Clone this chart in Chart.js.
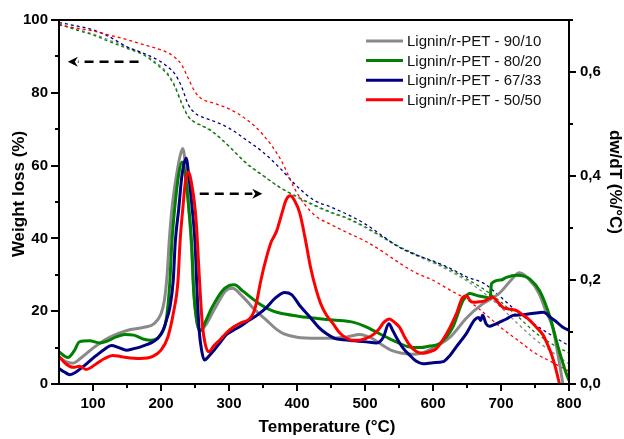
<!DOCTYPE html>
<html>
<head>
<meta charset="utf-8">
<script src="https://cdn.jsdelivr.net/npm/chart.js@4.4.1/dist/chart.umd.min.js"></script>
<style>
    html, body { margin: 0; padding: 0; background: #fff; }
    canvas { display: block; }
</style>
</head>
<body>
<canvas id="chart" width="624" height="439"></canvas>
<script>
// TG / DTG - Lignin/r-PET Mischungen

// ==================== Daten ====================

const seriesLabels = ['Lignin/r-PET - 90/10', 'Lignin/r-PET - 80/20', 'Lignin/r-PET - 67/33', 'Lignin/r-PET - 50/50'];

// DTG (dw/dT, %/°C) - durchgezogene Linien, rechte Achse
const dtgTemp9010 = [50, 60, 70, 85, 100, 125, 150, 175, 190, 200, 205, 209, 212, 216, 223, 228, 232, 236, 241, 245, 248, 252, 256, 259, 265, 280, 295, 305, 320, 340, 355, 370, 380, 400, 430, 455, 475, 492, 510, 522, 540, 555, 570, 585, 600, 625, 650, 673, 698, 715, 727, 740, 756, 766, 776, 786, 791];
const dtgVal9010 = [.052, .043, .040, .053, .069, .090, .103, .109, .116, .135, .161, .210, .273, .336, .403, .438, .453, .420, .336, .259, .182, .126, .105, .103, .112, .147, .179, .184, .168, .140, .123, .105, .097, .090, .088, .088, .091, .095, .088, .078, .064, .059, .057, .060, .069, .090, .128, .154, .175, .200, .214, .203, .174, .140, .109, .040, 0];

const dtgTemp8020 = [50, 63, 72, 80, 95, 110, 120, 135, 147, 160, 175, 185, 195, 203, 208, 213, 216, 220, 226, 231, 236, 241, 245, 248, 252, 256, 259, 265, 275, 290, 300, 308, 320, 345, 365, 380, 404, 430, 453, 482, 500, 512, 541, 566, 580, 595, 610, 629, 644, 654, 665, 678, 684, 686, 700, 708, 723, 735, 742, 757, 772, 784, 796, 800];
const dtgVal8020 = [.062, .051, .063, .081, .083, .079, .082, .091, .095, .094, .086, .084, .088, .103, .126, .196, .273, .336, .403, .427, .399, .336, .273, .179, .126, .105, .103, .119, .147, .179, .189, .191, .179, .154, .140, .135, .130, .126, .123, .119, .111, .103, .084, .071, .070, .073, .078, .109, .160, .174, .170, .167, .165, .193, .200, .205, .209, .207, .202, .179, .129, .071, .020, .007];

const dtgTemp6733 = [50, 58, 66, 75, 85, 95, 105, 117, 127, 138, 149, 160, 169, 180, 188, 196, 203, 208, 213, 218, 221, 226, 231, 237, 241, 246, 250, 253, 256, 260, 264, 270, 278, 286, 296, 306, 318, 330, 342, 355, 368, 382, 392, 404, 419, 432, 443, 455, 468, 485, 502, 517, 527, 535, 540, 546, 556, 566, 575, 585, 600, 615, 625, 634, 649, 661, 667, 670, 673, 678, 683, 690, 698, 708, 718, 730, 742, 755, 762, 767, 772, 782, 791, 800];
const dtgVal6733 = [.030, .023, .018, .023, .033, .044, .055, .067, .074, .070, .065, .068, .071, .076, .081, .089, .103, .123, .147, .199, .273, .336, .403, .434, .399, .336, .273, .179, .105, .063, .046, .053, .065, .078, .095, .103, .112, .123, .133, .147, .165, .176, .172, .151, .129, .109, .097, .088, .085, .083, .081, .079, .090, .116, .105, .090, .069, .055, .044, .039, .041, .043, .055, .071, .097, .123, .128, .122, .132, .116, .111, .114, .119, .125, .132, .133, .135, .137, .138, .135, .129, .119, .109, .103];

const dtgTemp5050 = [50, 60, 71, 80, 90, 105, 117, 129, 140, 149, 169, 188, 200, 210, 218, 225, 228, 232, 237, 241, 245, 249, 252, 255, 258, 261, 265, 270, 278, 286, 296, 306, 318, 330, 336, 340, 347, 355, 362, 370, 378, 384, 390, 396, 404, 412, 420, 428, 435, 443, 453, 463, 473, 482, 492, 502, 511, 520, 528, 536, 543, 551, 558, 566, 575, 585, 595, 605, 615, 625, 635, 644, 650, 654, 659, 668, 676, 683, 688, 695, 703, 713, 723, 732, 742, 752, 762, 768, 772, 777, 781, 786];
const dtgVal5050 = [.053, .039, .032, .034, .028, .039, .049, .055, .053, .051, .049, .053, .065, .090, .135, .199, .273, .336, .399, .407, .385, .350, .308, .238, .168, .112, .077, .062, .074, .084, .098, .109, .118, .125, .137, .154, .200, .243, .273, .294, .329, .354, .362, .354, .329, .280, .224, .182, .154, .133, .116, .098, .088, .084, .084, .088, .094, .105, .119, .125, .119, .109, .091, .074, .063, .059, .062, .068, .086, .109, .137, .167, .169, .161, .157, .158, .160, .165, .167, .158, .147, .144, .141, .133, .123, .109, .094, .077, .065, .046, .027, 0];

// TG (Gewichtsverlust, %) - gestrichelte Linien, linke Achse
const tgTemps = [50, 75, 100, 125, 150, 175, 200, 210, 220, 230, 240, 250, 260, 275, 300, 325, 350, 375, 400, 425, 450, 475, 500, 525, 550, 575, 600, 625, 650, 675, 700, 725, 750, 775, 800];
const tg9010 = [98.9, 97.5, 96.2, 94.4, 92.6, 90.6, 87.2, 85.3, 82.2, 77.5, 73.6, 71.8, 70.9, 69.3, 65.3, 60.6, 57.2, 54, 51.3, 49, 47, 45.3, 43, 40.3, 37.6, 35.3, 33.3, 31, 28.3, 25, 21, 16.5, 12.3, 8.8, 5.5];
const tg8020 = [98.8, 97.3, 95.9, 94, 92.2, 90.3, 86.8, 84.9, 81.8, 77.2, 73.5, 71.9, 71, 69.5, 65.3, 60.8, 57.3, 54, 51.5, 49.2, 47.2, 45.5, 43.2, 40.5, 37.8, 35.6, 33.6, 31.5, 28.8, 26, 22.5, 18.5, 14.2, 11, 8.5];
const tg6733 = [99.3, 98.4, 97.3, 95.3, 92.6, 90.8, 88.5, 87.1, 85.3, 81.8, 76.8, 74.4, 73.4, 72.4, 70.3, 67.1, 63.7, 59.3, 54.3, 50.5, 48.6, 46.5, 44, 40.8, 37.6, 35.5, 33.8, 31.8, 29.4, 27.6, 23.8, 19.7, 16.3, 13.3, 10.5];
const tg5050 = [98.6, 97.8, 97, 95.8, 94.6, 93.2, 91.8, 91, 89.8, 87.8, 84, 80.3, 78.3, 77.3, 75.6, 72.8, 68.5, 62, 52.5, 46.5, 43.8, 41.5, 39.3, 36.5, 33.3, 30.5, 28.5, 25.8, 23.2, 19.5, 15.5, 12, 8.5, 6, 3.5];

// Farben
const COLORS = {
    gray: '#8a8a8a',
    green: '#008000',
    navy: '#000080',
    red: '#ff0000'
};

const FONT = 'Arial, "Liberation Sans", sans-serif';

// ==================== Datasets ====================

function toPoints(xs, ys) {
    return xs.map((x, i) => ({ x: x, y: ys[i] }));
}

function dtgSet(label, xs, ys, color, order) {
    return {
        label: label,
        data: toPoints(xs, ys),
        yAxisID: 'y1',
        borderColor: color,
        borderWidth: 3,
        pointRadius: 0,
        fill: false,
        cubicInterpolationMode: 'monotone',
        order: order,
        inLegend: true
    };
}

function tgSet(label, ys, color, order) {
    return {
        label: label + ' (TG)',
        data: toPoints(tgTemps, ys),
        yAxisID: 'y',
        borderColor: color,
        borderWidth: 1.3,
        borderDash: [3, 3],
        pointRadius: 0,
        fill: false,
        cubicInterpolationMode: 'monotone',
        order: order
    };
}

const datasets = [
    dtgSet(seriesLabels[0], dtgTemp9010, dtgVal9010, COLORS.gray, 3),
    dtgSet(seriesLabels[1], dtgTemp8020, dtgVal8020, COLORS.green, 2),
    dtgSet(seriesLabels[2], dtgTemp6733, dtgVal6733, COLORS.navy, 1),
    dtgSet(seriesLabels[3], dtgTemp5050, dtgVal5050, COLORS.red, 0),
    tgSet(seriesLabels[0], tg9010, COLORS.gray, 7),
    tgSet(seriesLabels[1], tg8020, COLORS.green, 6),
    tgSet(seriesLabels[2], tg6733, COLORS.navy, 5),
    tgSet(seriesLabels[3], tg5050, COLORS.red, 4)
];

// ==================== Plugins ====================

// Rahmen + Tickmarken (Haupt- und Nebenticks)
const framePlugin = {
    id: 'frame',
    afterDraw(chart) {
        const ctx = chart.ctx;
        const a = chart.chartArea;
        const sx = chart.scales.x, sy = chart.scales.y, sy1 = chart.scales.y1;
        ctx.save();
        ctx.strokeStyle = '#000';
        ctx.lineWidth = 2;
        ctx.strokeRect(a.left, a.top, a.right - a.left, a.bottom - a.top);

        ctx.beginPath();
        for (let v = 100; v <= 800; v += 50) {
            const px = Math.round(sx.getPixelForValue(v));
            const len = v % 100 === 0 ? 7 : 4;
            ctx.moveTo(px, a.bottom);
            ctx.lineTo(px, a.bottom + len);
        }
        for (let v = 0; v <= 100; v += 10) {
            const py = Math.round(sy.getPixelForValue(v));
            const len = v % 20 === 0 ? 8 : 4;
            ctx.moveTo(a.left, py);
            ctx.lineTo(a.left - len, py);
        }
        for (let i = 0; i <= 7; i++) {
            const py = Math.round(sy1.getPixelForValue(i / 10));
            const len = i % 2 === 0 ? 7 : 4;
            ctx.moveTo(a.right, py);
            ctx.lineTo(a.right + len, py);
        }
        ctx.stroke();
        ctx.restore();
    }
};

// Achsentitel
const titlePlugin = {
    id: 'axisTitles',
    afterDraw(chart) {
        const ctx = chart.ctx;
        const a = chart.chartArea;
        ctx.save();
        ctx.fillStyle = '#000';
        ctx.font = 'bold 17px ' + FONT;
        ctx.textAlign = 'center';
        ctx.textBaseline = 'middle';
        ctx.fillText('Temperature (°C)', (a.left + a.right) / 2 + 13, a.bottom + 43);

        ctx.save();
        ctx.translate(19, (a.top + a.bottom) / 2 - 8);
        ctx.rotate(-Math.PI / 2);
        ctx.fillText('Weight loss (%)', 0, 0);
        ctx.restore();

        ctx.save();
        ctx.translate(a.right + 46, (a.top + a.bottom) / 2 - 20);
        ctx.rotate(Math.PI / 2);
        ctx.fillText('dw/dT (%/°C)', 0, 0);
        ctx.restore();
        ctx.restore();
    }
};

// Legende oben rechts im Diagramm
const legendPlugin = {
    id: 'innerLegend',
    afterDraw(chart) {
        const ctx = chart.ctx;
        const a = chart.chartArea;
        const items = chart.data.datasets.filter(d => d.inLegend);
        const x0 = a.left + 307;
        let y = a.top + 21;
        ctx.save();
        ctx.font = '15px ' + FONT;
        ctx.textBaseline = 'middle';
        ctx.textAlign = 'left';
        items.forEach(d => {
            ctx.strokeStyle = d.borderColor;
            ctx.lineWidth = 3;
            ctx.beginPath();
            ctx.moveTo(x0, y);
            ctx.lineTo(x0 + 37, y);
            ctx.stroke();
            ctx.fillStyle = '#111';
            ctx.fillText(d.label, x0 + 41, y + 1);
            y += 19.6;
        });
        ctx.restore();
    }
};

// Gestrichelte Pfeile (TG -> links, DTG -> rechts), in Datenkoordinaten
const arrows = [
    { axis: 'y', from: [167, 88.5], to: [63, 88.5] },
    { axis: 'y1', from: [257, 0.366], to: [349, 0.366] }
];

const arrowPlugin = {
    id: 'arrows',
    afterDraw(chart) {
        const ctx = chart.ctx;
        const sx = chart.scales.x;
        ctx.save();
        ctx.strokeStyle = '#000';
        ctx.fillStyle = '#000';
        arrows.forEach(ar => {
            const sy = chart.scales[ar.axis];
            const x0 = sx.getPixelForValue(ar.from[0]);
            const y0 = sy.getPixelForValue(ar.from[1]);
            const x1 = sx.getPixelForValue(ar.to[0]);
            const y1 = sy.getPixelForValue(ar.to[1]);
            const dir = Math.sign(x1 - x0);
            const head = 10;
            ctx.lineWidth = 2.5;
            ctx.setLineDash([9, 6]);
            ctx.beginPath();
            ctx.moveTo(x0, y0);
            ctx.lineTo(x1 - dir * head, y1);
            ctx.stroke();
            ctx.setLineDash([]);
            ctx.beginPath();
            ctx.moveTo(x1, y1);
            ctx.lineTo(x1 - dir * head, y1 - 5);
            ctx.lineTo(x1 - dir * (head - 3), y1);
            ctx.lineTo(x1 - dir * head, y1 + 5);
            ctx.closePath();
            ctx.fill();
        });
        ctx.restore();
    }
};

// ==================== Chart ====================

const tickFont = { family: FONT, size: 15, weight: 'bold' };

function init() {
    const ctx = document.getElementById('chart');
    new Chart(ctx, {
        type: 'line',
        data: { datasets: datasets },
        options: {
            responsive: false,
            animation: false,
            devicePixelRatio: 1,
            layout: { padding: { top: 17, left: 0, right: 0, bottom: 0 } },
            plugins: {
                legend: { display: false },
                tooltip: { enabled: false }
            },
            scales: {
                x: {
                    type: 'linear',
                    min: 50,
                    max: 800,
                    grid: { display: false, drawTicks: false },
                    border: { display: false },
                    ticks: {
                        stepSize: 100,
                        autoSkip: false,
                        maxRotation: 0,
                        padding: 11,
                        color: '#000',
                        font: tickFont,
                        callback: v => (v % 100 === 0 ? v : '')
                    },
                    afterFit: s => { s.height = 55; }
                },
                y: {
                    position: 'left',
                    min: 0,
                    max: 100,
                    grid: { display: false, drawTicks: false },
                    border: { display: false },
                    ticks: {
                        stepSize: 20,
                        padding: 11,
                        color: '#000',
                        font: tickFont
                    },
                    afterFit: s => { s.width = 59; }
                },
                y1: {
                    position: 'right',
                    min: 0,
                    max: 0.7,
                    grid: { display: false, drawTicks: false },
                    border: { display: false },
                    ticks: {
                        stepSize: 0.2,
                        padding: 11,
                        color: '#000',
                        font: tickFont,
                        callback: v => (Math.round(v * 10) % 2 === 0 ? v.toFixed(1).replace('.', ',') : '')
                    },
                    afterFit: s => { s.width = 55; }
                }
            }
        },
        plugins: [framePlugin, titlePlugin, legendPlugin, arrowPlugin]
    });
}

document.addEventListener('DOMContentLoaded', init);
</script>
</body>
</html>
